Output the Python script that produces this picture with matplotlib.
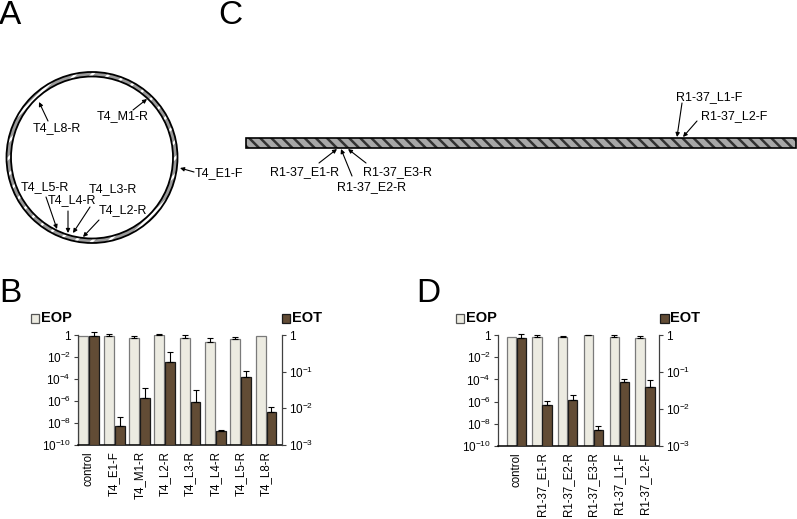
import numpy as np
import matplotlib
matplotlib.use("Agg")
import matplotlib.pyplot as plt
from matplotlib.patches import Wedge, Circle, Rectangle
from matplotlib.ticker import FixedLocator, NullLocator

plt.rcParams['font.family'] = ['Liberation Sans', 'DejaVu Sans']
plt.rcParams['mathtext.fontset'] = 'custom'
plt.rcParams['mathtext.rm'] = 'Liberation Sans'
plt.rcParams['mathtext.it'] = 'Liberation Sans'
plt.rcParams['hatch.linewidth'] = 1.8

# panel B data (EOP on left axis, EOT on right axis); *_top = top of error bar
labels_b = ['control', 'T4_E1-F', 'T4_M1-R', 'T4_L2-R', 'T4_L3-R', 'T4_L4-R', 'T4_L5-R', 'T4_L8-R']
eop_b = [0.87, 0.76, 0.50, 1.0, 0.50, 0.245, 0.44, 0.76]
eop_b_top = [None, 1.15, 0.76, 1.28, 0.92, 0.57, 0.60, None]
eot_b = [0.95, 3.4e-3, 0.0195, 0.186, 0.015, 2.4e-3, 0.071, 7.8e-3]
eot_b_top = [1.22, 5.7e-3, 0.036, 0.34, 0.031, 2.55e-3, 0.104, 0.0107]

# panel D data
labels_d = ['control', 'R1-37_E1-R', 'R1-37_E2-R', 'R1-37_E3-R', 'R1-37_L1-F', 'R1-37_L2-F']
eop_d = [0.66, 0.71, 0.61, 0.93, 0.71, 0.58]
eop_d_top = [None, 1.0, 0.8, 1.05, 1.0, 0.8]
eot_d = [0.81, 0.0126, 0.018, 2.7e-3, 0.054, 0.0385]
eot_d_top = [1.04, 0.016, 0.0234, 3.5e-3, 0.063, 0.06]

# primer labels for the diagrams: (text, text pos, arrow tail, arrow head)
primers_a = [
    ('T4_L8-R', (57, 128), (48, 121), (39, 102)),
    ('T4_M1-R', (123, 116), (133, 110), (147, 99)),
    ('T4_E1-F', (219, 173), (194, 172), (180, 168)),
    ('T4_L5-R', (45, 187), (46, 197), (57, 229)),
    ('T4_L4-R', (72, 200), (68, 211), (68, 233)),
    ('T4_L3-R', (113, 189), (90, 207), (73, 233)),
    ('T4_L2-R', (123, 210), (99, 220), (83, 237)),
]
primers_c = [
    ('R1-37_L1-F', (709, 97), (682, 103), (677, 137)),
    ('R1-37_L2-F', (734, 116), (697, 121), (683, 137)),
    ('R1-37_E1-R', (305, 172), (319, 163), (337, 149)),
    ('R1-37_E2-R', (372, 187), (352, 176), (341, 149)),
    ('R1-37_E3-R', (398, 172), (366, 163), (348, 149)),
]

EOP_FACE, EOP_EDGE = '#ecebe1', '#7a7a7a'
EOT_FACE, EOT_EDGE = '#624c35', '#1a1a1a'

W, H = 797, 519
fig = plt.figure(figsize=(W / 100, H / 100), dpi=100)

# overlay axes in pixel coordinates for the diagrams and labels
ov = fig.add_axes([0, 0, 1, 1])
ov.set_xlim(0, W)
ov.set_ylim(H, 0)
ov.axis('off')


def px_axes(left, right, top, bottom):
    return fig.add_axes([left / W, (H - bottom) / H, (right - left) / W, (bottom - top) / H])


def errbars(ax, x, vals, tops):
    idx = [i for i, t in enumerate(tops) if t is not None]
    xs = [x[i] for i in idx]
    vs = [vals[i] for i in idx]
    up = [tops[i] - vals[i] for i in idx]
    ax.errorbar(xs, vs, yerr=[np.zeros(len(idx)), up], fmt='none', ecolor='black',
                elinewidth=0.8, capsize=2.5, capthick=0.8, clip_on=False, zorder=5)


def bar_panel(box, xlim, labels, eop, eop_top, eot, eot_top, off, width):
    ax = px_axes(*box)
    ax2 = ax.twinx()
    x = np.arange(len(labels))
    ax.set_yscale('log')
    ax2.set_yscale('log')
    ax.set_ylim(1e-10, 1)
    ax2.set_ylim(1e-3, 1)
    ax.set_xlim(*xlim)
    ax2.set_xlim(*xlim)
    ax.bar(x - off, np.array(eop) - 1e-10, width, bottom=1e-10, color=EOP_FACE,
           edgecolor=EOP_EDGE, linewidth=0.9)
    ax2.bar(x + off, np.array(eot) - 1e-3, width, bottom=1e-3, color=EOT_FACE,
            edgecolor=EOT_EDGE, linewidth=0.9)
    errbars(ax, list(x - off), eop, eop_top)
    errbars(ax2, list(x + off), eot, eot_top)

    lt = [1e-10, 1e-8, 1e-6, 1e-4, 1e-2, 1]
    ax.yaxis.set_major_locator(FixedLocator(lt))
    ax.yaxis.set_minor_locator(NullLocator())
    ax.set_yticklabels([r'$10^{-10}$', r'$10^{-8}$', r'$10^{-6}$', r'$10^{-4}$',
                        r'$10^{-2}$', '1'])
    rt = [1e-3, 1e-2, 1e-1, 1]
    ax2.yaxis.set_major_locator(FixedLocator(rt))
    ax2.yaxis.set_minor_locator(NullLocator())
    ax2.set_yticklabels([r'$10^{-3}$', r'$10^{-2}$', r'$10^{-1}$', '1'])

    ax.set_xticks(x)
    ax.set_xticklabels(labels, rotation=90, fontsize=8.3)
    ax.tick_params(axis='x', length=0, pad=4.5)
    ax.tick_params(axis='y', direction='out', length=3, width=0.8, labelsize=8.5,
                   color='#404040', pad=2)
    ax2.tick_params(axis='y', direction='out', length=3, width=0.8, labelsize=8.5,
                    color='#404040', pad=2)
    for a in (ax, ax2):
        a.spines['top'].set_visible(False)
        for s in ('left', 'right', 'bottom'):
            a.spines[s].set_linewidth(0.9)
            a.spines[s].set_color('#404040')
    ax.spines['right'].set_visible(False)
    ax2.spines['left'].set_visible(False)
    ax2.spines['bottom'].set_visible(False)
    ax.spines['bottom'].set_color('black')
    ax.spines['bottom'].set_linewidth(1.1)
    ax.patch.set_alpha(0)
    ax2.patch.set_alpha(0)
    return ax


bar_panel((77.7, 281.7, 335, 445), (-0.44, 7.62), labels_b, eop_b, eop_b_top,
          eot_b, eot_b_top, 0.215, 0.39)
bar_panel((497.7, 659.3, 335, 446), (-0.72, 5.56), labels_d, eop_d, eop_d_top,
          eot_d, eot_d_top, 0.195, 0.36)

# legend boxes
for x0, yc, txt, face, edge in [(30.7, 318.5, 'EOP', EOP_FACE, '#555555'),
                               (281.7, 318.5, 'EOT', EOT_FACE, EOT_EDGE),
                               (455.7, 318.5, 'EOP', EOP_FACE, '#555555'),
                               (660.0, 318.5, 'EOT', EOT_FACE, EOT_EDGE)]:
    ov.add_patch(Rectangle((x0, yc - 4.3), 8.6, 8.6, facecolor=face, edgecolor=edge,
                           linewidth=0.9))
    ov.text(x0 + 10.5, yc, txt, fontsize=10.5, fontweight='bold', va='center', ha='left')

# panel letters
for letter, x0, y0 in [('A', -1, 0), ('B', -1, 278), ('C', 218, 0), ('D', 416, 278)]:
    ov.text(x0, y0, letter, fontsize=24, va='top', ha='left')

# A: circular genome
cx, cy, r = 92, 157.5, 85.5
ov.add_patch(Wedge((cx, cy), r, 0, 360, width=4.5, facecolor='#9a9a9a',
                   edgecolor='white', hatch='//', linewidth=0))
ov.add_patch(Circle((cx, cy), r, fill=False, edgecolor='black', linewidth=1.3))
ov.add_patch(Circle((cx, cy), r - 4.5, fill=False, edgecolor='black', linewidth=1.3))

# C: linear genome
ov.add_patch(Rectangle((246, 138), 550, 10, facecolor='#a8a8a8', edgecolor='#333333',
                       hatch='\\\\\\', linewidth=0))
ov.add_patch(Rectangle((246, 138), 550, 10, fill=False, edgecolor='black', linewidth=1.2))

for txt, tpos, tail, head in primers_a + primers_c:
    ov.text(tpos[0], tpos[1], txt, fontsize=9, ha='center', va='center')
    ov.annotate('', xy=head, xytext=tail,
                arrowprops=dict(arrowstyle='-|>', color='black', lw=0.8,
                                mutation_scale=6, shrinkA=0, shrinkB=0))

fig.savefig('out.png', dpi=100)
